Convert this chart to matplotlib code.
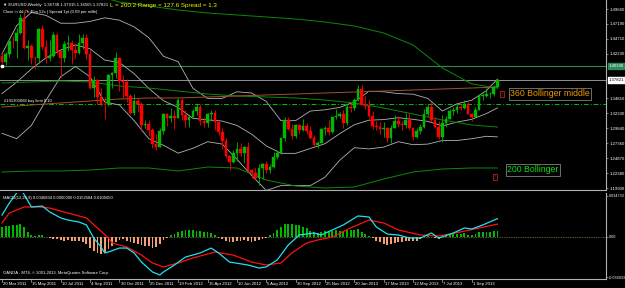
import matplotlib
matplotlib.use("Agg")
import matplotlib.pyplot as plt
from matplotlib.patches import Rectangle
from matplotlib.transforms import blended_transform_factory

plt.rcParams['font.family'] = ['Liberation Sans', 'DejaVu Sans']

# weekly EURUSD candles, week 0 = 20 Mar 2011
opens = [1.4180, 1.4090, 1.4225, 1.4435, 1.4430, 1.4570, 1.4810, 1.4315, 1.4355, 1.4155,
         1.4150, 1.4635, 1.4335, 1.4155, 1.4190, 1.4530, 1.4260, 1.4150, 1.4380, 1.4395,
         1.4285, 1.4240, 1.4395, 1.4490, 1.4210, 1.3650, 1.3790, 1.3500, 1.3390, 1.3380,
         1.3870, 1.3895, 1.4150, 1.3775, 1.3750, 1.3525, 1.3240, 1.3445, 1.3380, 1.3040,
         1.3055, 1.2960, 1.2720, 1.2680, 1.2935, 1.3215, 1.3150, 1.3195, 1.3160, 1.3450,
         1.3205, 1.3120, 1.3175, 1.3275, 1.3345, 1.3100, 1.3075, 1.3225, 1.3235, 1.3080,
         1.2915, 1.2780, 1.2515, 1.2415, 1.2570, 1.2640, 1.2570, 1.2665, 1.2290, 1.2245,
         1.2155, 1.2315, 1.2390, 1.2290, 1.2335, 1.2510, 1.2575, 1.2815, 1.3125, 1.2975,
         1.2860, 1.3040, 1.2950, 1.3025, 1.2940, 1.2815, 1.2710, 1.2745, 1.2975, 1.2985,
         1.2925, 1.3165, 1.3180, 1.3215, 1.3065, 1.3345, 1.3315, 1.3455, 1.3640, 1.3365,
         1.3360, 1.3190, 1.3020, 1.3005, 1.2965, 1.2985, 1.2815, 1.2995, 1.3110, 1.3050,
         1.3030, 1.3115, 1.2990, 1.2835, 1.2935, 1.3000, 1.3220, 1.3345, 1.3120, 1.3010,
         1.2830, 1.3065, 1.3140, 1.3275, 1.3280, 1.3340, 1.3325, 1.3380, 1.3220, 1.3175,
         1.3295, 1.3525, 1.3525, 1.3555, 1.3555, 1.36738]
highs = [1.4250, 1.4250, 1.4440, 1.4520, 1.4650, 1.4880, 1.4940, 1.4450, 1.4390, 1.4180,
         1.4650, 1.4700, 1.4450, 1.4450, 1.4580, 1.4560, 1.4280, 1.4440, 1.4530, 1.4450,
         1.4400, 1.4550, 1.4550, 1.4550, 1.4280, 1.3850, 1.3800, 1.3660, 1.3500, 1.3890,
         1.3915, 1.4245, 1.4170, 1.3870, 1.3800, 1.3550, 1.3550, 1.3490, 1.3420, 1.3120,
         1.3120, 1.2990, 1.2880, 1.2980, 1.3235, 1.3235, 1.3320, 1.3290, 1.3480, 1.3490,
         1.3290, 1.3200, 1.3300, 1.3385, 1.3385, 1.3170, 1.3240, 1.3285, 1.3280, 1.3090,
         1.2980, 1.2825, 1.2540, 1.2625, 1.2750, 1.2745, 1.2695, 1.2750, 1.2310, 1.2325,
         1.2390, 1.2405, 1.2440, 1.2385, 1.2585, 1.2625, 1.2815, 1.3170, 1.3170, 1.3060,
         1.3060, 1.3050, 1.3140, 1.3070, 1.3015, 1.2875, 1.2775, 1.2990, 1.3020, 1.3125,
         1.3170, 1.3310, 1.3260, 1.3295, 1.3405, 1.3405, 1.3480, 1.3700, 1.3711, 1.3520,
         1.3455, 1.3270, 1.3110, 1.3080, 1.3080, 1.3005, 1.3030, 1.3205, 1.3190, 1.3110,
         1.3245, 1.3240, 1.3010, 1.2980, 1.3060, 1.3305, 1.3390, 1.3415, 1.3175, 1.3105,
         1.3205, 1.3190, 1.3300, 1.3345, 1.3400, 1.3390, 1.3450, 1.3425, 1.3245, 1.3340,
         1.3545, 1.3570, 1.3645, 1.3590, 1.3705, 1.37915]
lows = [1.4060, 1.4030, 1.4160, 1.4320, 1.4150, 1.4550, 1.4300, 1.4120, 1.4050, 1.3968,
        1.4070, 1.4300, 1.4070, 1.4100, 1.4160, 1.4220, 1.3837, 1.4080, 1.4270, 1.4050,
        1.4150, 1.4225, 1.4300, 1.4140, 1.3640, 1.3495, 1.3385, 1.3360, 1.3145, 1.3350,
        1.3650, 1.3820, 1.3610, 1.3485, 1.3420, 1.3215, 1.3210, 1.3260, 1.2945, 1.2980,
        1.2860, 1.2660, 1.2624, 1.2670, 1.2880, 1.3025, 1.3080, 1.2975, 1.3150, 1.3120,
        1.3005, 1.3005, 1.3170, 1.3210, 1.3035, 1.3000, 1.3000, 1.3110, 1.2955, 1.2865,
        1.2640, 1.2495, 1.2285, 1.2400, 1.2445, 1.2520, 1.2405, 1.2255, 1.2160, 1.2140,
        1.2042, 1.2135, 1.2240, 1.2240, 1.2330, 1.2475, 1.2560, 1.2770, 1.2955, 1.2800,
        1.2820, 1.2885, 1.2930, 1.2880, 1.2800, 1.2690, 1.2660, 1.2740, 1.2875, 1.2875,
        1.2910, 1.3140, 1.3150, 1.2995, 1.3030, 1.3255, 1.3290, 1.3440, 1.3370, 1.3300,
        1.3150, 1.2965, 1.2955, 1.2880, 1.2845, 1.2750, 1.2745, 1.2985, 1.3000, 1.2955,
        1.2990, 1.2960, 1.2795, 1.2815, 1.2880, 1.2990, 1.3180, 1.3080, 1.2990, 1.2805,
        1.2755, 1.3010, 1.3130, 1.3205, 1.3230, 1.3290, 1.3300, 1.3215, 1.3105, 1.3165,
        1.3290, 1.3460, 1.3495, 1.3480, 1.3525, 1.36505]
closes = [1.4090, 1.4225, 1.4435, 1.4430, 1.4570, 1.4810, 1.4315, 1.4355, 1.4155, 1.4150,
          1.4635, 1.4335, 1.4155, 1.4190, 1.4530, 1.4260, 1.4150, 1.4380, 1.4395, 1.4285,
          1.4240, 1.4395, 1.4490, 1.4210, 1.3650, 1.3790, 1.3500, 1.3390, 1.3380, 1.3870,
          1.3895, 1.4150, 1.3775, 1.3750, 1.3525, 1.3240, 1.3445, 1.3380, 1.3040, 1.3055,
          1.2960, 1.2720, 1.2680, 1.2935, 1.3215, 1.3150, 1.3195, 1.3160, 1.3450, 1.3205,
          1.3120, 1.3175, 1.3275, 1.3345, 1.3100, 1.3075, 1.3225, 1.3235, 1.3080, 1.2915,
          1.2780, 1.2515, 1.2415, 1.2570, 1.2640, 1.2570, 1.2665, 1.2290, 1.2245, 1.2155,
          1.2315, 1.2390, 1.2290, 1.2335, 1.2510, 1.2575, 1.2815, 1.3125, 1.2975, 1.2860,
          1.3040, 1.2950, 1.3025, 1.2940, 1.2815, 1.2710, 1.2745, 1.2975, 1.2985, 1.2925,
          1.3165, 1.3180, 1.3215, 1.3065, 1.3345, 1.3315, 1.3455, 1.3640, 1.3365, 1.3360,
          1.3190, 1.3020, 1.3005, 1.2965, 1.2985, 1.2815, 1.2995, 1.3110, 1.3050, 1.3030,
          1.3115, 1.2990, 1.2835, 1.2935, 1.3000, 1.3220, 1.3345, 1.3120, 1.3010, 1.2830,
          1.3065, 1.3140, 1.3275, 1.3280, 1.3340, 1.3325, 1.3380, 1.3220, 1.3175, 1.3295,
          1.3525, 1.3525, 1.3555, 1.3555, 1.3674, 1.37821]

# 20-week bollinger (gray), read every 4 weeks
bb_weeks = [0, 4, 8, 12, 16, 20, 24, 28, 32, 36, 40, 44, 48, 52, 56, 60, 64, 68, 72, 76,
            80, 84, 88, 92, 96, 100, 104, 108, 112, 116, 120, 124, 128, 132, 135]
bb_mid = [1.356, 1.375, 1.397, 1.4155, 1.4285, 1.437, 1.4304, 1.4117, 1.4076, 1.3891,
          1.3647, 1.3441, 1.3329, 1.3149, 1.3123, 1.3103, 1.3031, 1.2886, 1.2691, 1.2567,
          1.2566, 1.2647, 1.2727, 1.2893, 1.3042, 1.3118, 1.3128, 1.3159, 1.3132, 1.3098,
          1.3024, 1.3086, 1.3132, 1.3228, 1.3322]
bb_up = [1.422, 1.469, 1.491, 1.486, 1.473, 1.473, 1.476, 1.482, 1.478, 1.467,
         1.449, 1.418, 1.409, 1.365, 1.348, 1.348, 1.359, 1.357, 1.343, 1.311,
         1.311, 1.327, 1.329, 1.333, 1.342, 1.360, 1.359, 1.356, 1.355, 1.348,
         1.327, 1.339, 1.345, 1.361, 1.380]
bb_lo = [1.290, 1.281, 1.303, 1.345, 1.384, 1.401, 1.384, 1.342, 1.337, 1.311,
         1.281, 1.270, 1.257, 1.265, 1.276, 1.272, 1.247, 1.220, 1.195, 1.203,
         1.203, 1.203, 1.217, 1.245, 1.266, 1.264, 1.267, 1.276, 1.271, 1.272,
         1.278, 1.278, 1.281, 1.285, 1.284]

# 200-week bollinger (green) and 360-week middle (brown), read every 8 weeks
lt_weeks = [0, 8, 16, 24, 32, 40, 48, 56, 64, 72, 80, 88, 96, 104, 112, 120, 128, 135]
bb200_up = [1.5216, 1.5233, 1.5266, 1.5216, 1.5083, 1.5017, 1.4950, 1.4900, 1.4867,
            1.4834, 1.4800, 1.4750, 1.4684, 1.4568, 1.4368, 1.3986, 1.3720, 1.3653]
bb200_mid = [1.3736, 1.3753, 1.3769, 1.3753, 1.3686, 1.3653, 1.3603, 1.3553, 1.3520,
             1.3503, 1.3487, 1.3453, 1.3404, 1.3320, 1.3221, 1.3121, 1.3038, 1.3004]
bb200_lo = [1.2256, 1.2273, 1.2273, 1.2289, 1.2323, 1.2323, 1.2273, 1.2339, 1.2323,
            1.2123, 1.2023, 1.1990, 1.2007, 1.2140, 1.2256, 1.2306, 1.2323, 1.2323]
sma360 = [1.3337, 1.3370, 1.3404, 1.3437, 1.3470, 1.3487, 1.3487, 1.3503, 1.3520,
          1.3537, 1.3553, 1.3570, 1.3586, 1.3603, 1.3620, 1.3636, 1.3653, 1.3670]

hline_green = 1.4019
bid = 1.37821
buy_limit = 1.3387
price_ticks = [1.1990, 1.2238, 1.2487, 1.2736, 1.2984, 1.3233, 1.3481,
               1.4223, 1.4471, 1.4719, 1.4966]

# MACD(12,26,9)
macd_weeks = [0, 2, 5, 8, 11, 13, 16, 18, 21, 23, 25, 27, 28, 29, 32, 34, 36, 38, 41, 43,
              44, 47, 50, 54, 57, 59, 62, 67, 70, 72, 75, 78, 81, 85, 87, 90, 93, 97, 100,
              102, 105, 108, 111, 114, 117, 119, 123, 126, 128, 131, 135]
macd_main = [0.0184, 0.0287, 0.0416, 0.0253, 0.0261, 0.0210, 0.0159, 0.0141, 0.0124,
             0.0099, -0.0013, -0.0090, -0.0141, -0.0133, -0.0099, -0.0099, -0.0141,
             -0.0219, -0.0304, -0.0330, -0.0304, -0.0244, -0.0176, -0.0141, -0.0099,
             -0.0141, -0.0219, -0.0244, -0.0270, -0.0261, -0.0201, -0.0073, 0.0013,
             0.0030, 0.0013, 0.0056, 0.0099, 0.0176, 0.0167, 0.0081, 0.0021, 0.0013,
             -0.0013, -0.0013, 0.0030, -0.0013, 0.0030, 0.0073, 0.0064, 0.0099, 0.0153]
sig_weeks = [0, 2, 6, 10, 13, 18, 23, 26, 29, 30, 34, 38, 41, 44, 48, 52, 58, 63, 68, 72,
             76, 79, 83, 86, 90, 95, 100, 104, 108, 114, 119, 125, 130, 135]
macd_signal = [0.0116, 0.0201, 0.0253, 0.0253, 0.0244, 0.0201, 0.0159, 0.0073, -0.0013,
               -0.0056, -0.0090, -0.0159, -0.0227, -0.0261, -0.0227, -0.0184, -0.0133,
               -0.0159, -0.0219, -0.0244, -0.0227, -0.0141, -0.0056, -0.0030, -0.0004,
               0.0073, 0.0141, 0.0116, 0.0056, 0.0013, 0.0004, 0.0039, 0.0073, 0.0106]
macd_hist = [0.0080, 0.0088, 0.0092, 0.0095, 0.0100, 0.0105, 0.0085, 0.0040, 0.0010, 0.0008,
             0.0012, 0.0010, -0.0005, -0.0015, -0.0020, -0.0025, -0.0030, -0.0035, -0.0030, -0.0035,
             -0.0040, -0.0035, -0.0045, -0.0060, -0.0100, -0.0125, -0.0140, -0.0150, -0.0145, -0.0110,
             -0.0080, -0.0050, -0.0030, -0.0025, -0.0035, -0.0050, -0.0055, -0.0060, -0.0070, -0.0080,
             -0.0085, -0.0095, -0.0090, -0.0060, -0.0030, -0.0010, 0.0010, 0.0025, 0.0040, 0.0045,
             0.0055, 0.0060, 0.0055, 0.0050, 0.0045, 0.0040, 0.0035, 0.0030, 0.0010, -0.0010,
             -0.0020, -0.0035, -0.0045, -0.0050, -0.0040, -0.0035, -0.0030, -0.0040, -0.0045, -0.0040,
             -0.0030, -0.0020, -0.0010, 0.0010, 0.0030, 0.0060, 0.0085, 0.0105, 0.0110, 0.0105,
             0.0100, 0.0095, 0.0085, 0.0070, 0.0050, 0.0040, 0.0030, 0.0040, 0.0045, 0.0040,
             0.0050, 0.0055, 0.0050, 0.0045, 0.0060, 0.0055, 0.0055, 0.0065, 0.0040, 0.0025,
             0.0005, -0.0015, -0.0035, -0.0050, -0.0060, -0.0070, -0.0065, -0.0055, -0.0050, -0.0045,
             -0.0040, -0.0035, -0.0040, -0.0035, -0.0020, 0.0005, 0.0010, -0.0005, -0.0010, -0.0020,
             -0.0005, 0.0005, 0.0015, 0.0020, 0.0025, 0.0020, 0.0030, 0.0015, 0.0010, 0.0020,
             0.0035, 0.0040, 0.0040, 0.0035, 0.0045, 0.0047]
macd_ticks = [0.034733, 0.0, -0.034933]
macd_tick_labels = ["0.034733", "0.00", "-0.034933"]

date_weeks = [0, 8, 16, 24, 32, 40, 48, 56, 64, 72, 80, 88, 96, 104, 112, 120, 128]
date_labels = ["20 Mar 2011", "15 May 2011", "10 Jul 2011", "4 Sep 2011", "30 Oct 2011",
               "25 Dec 2011", "19 Feb 2012", "15 Apr 2012", "10 Jun 2012", "5 Aug 2012",
               "30 Sep 2012", "25 Nov 2012", "20 Jan 2013", "17 Mar 2013", "12 May 2013",
               "7 Jul 2013", "1 Sep 2013"]

W, H = 625, 288
BULL = "#00b800"
BEAR = "#ff0000"
AXC = "#b0b0b0"
XLIM = (-0.545, 164.58)
FS = 3.1

fig = plt.figure(figsize=(W / 100, H / 100), dpi=100, facecolor="black")


def px_axes(x0, y0, x1, y1):
    return fig.add_axes([x0 / W, 1 - y1 / H, (x1 - x0) / W, (y1 - y0) / H])


def ftext(x, y, s, **kw):
    fig.text(x / W, 1 - y / H, s, **kw)


ax = px_axes(0, 0, 606, 190)
mx = px_axes(0, 193, 606, 279)
for a in (ax, mx):
    a.set_facecolor("black")
    a.set_xlim(*XLIM)
    for s in ("left", "top"):
        a.spines[s].set_visible(False)
    for s in ("right", "bottom"):
        a.spines[s].set_color(AXC)
        a.spines[s].set_linewidth(0.8)
    a.yaxis.tick_right()
    a.tick_params(axis="y", colors=AXC, labelcolor="white", length=1.5, width=0.5,
                  labelsize=FS, pad=0.8)
    a.set_xticks([])

ax.set_ylim(1.1957, 1.5116)
mx.set_ylim(-0.03642, 0.03728)
mx.tick_params(axis="y", labelsize=2.7, pad=0.6)

# candles
for i in range(len(closes)):
    o, h, l, c = opens[i], highs[i], lows[i], closes[i]
    col = BULL if c >= o else BEAR
    ax.vlines(i, l, h, color=col, lw=0.6, zorder=4)
    bot = min(o, c)
    hgt = max(abs(c - o), 0.0004)
    ax.add_patch(Rectangle((i - 0.36, bot), 0.72, hgt, facecolor=col, edgecolor=col,
                           lw=0.3, zorder=5))

# indicator lines
for band in (bb_up, bb_mid, bb_lo):
    ax.plot(bb_weeks, band, color="#b4b4b4", lw=0.6, zorder=3)
for band in (bb200_up, bb200_mid, bb200_lo):
    ax.plot(lt_weeks, band, color="#0a8a0a", lw=0.7, zorder=3)
ax.plot(lt_weeks, sma360, color="#a0522d", lw=0.7, zorder=3)

ax.axhline(hline_green, color="#2e8b57", lw=0.8, zorder=2)
ax.axhline(bid, color="#a8a8a8", lw=0.6, zorder=2)
ax.axhline(buy_limit, color="#00c000", lw=0.7, ls=(0, (5, 2, 1, 2)), zorder=2)
ax.plot([0], [hline_green], marker="s", ms=1.5, color="white", zorder=6)

ax.set_yticks(price_ticks)
ax.set_yticklabels(["%.5f" % p for p in price_ticks])

tr = blended_transform_factory(ax.transAxes, ax.transData)
ax.text(1.004, hline_green, "%.5f" % hline_green, transform=tr, fontsize=FS,
        color="white", va="center", ha="left",
        bbox=dict(boxstyle="square,pad=0.2", fc="#2e8b57", ec="#2e8b57"))
ax.text(1.004, bid, "%.5f" % bid, transform=tr, fontsize=FS, color="black",
        va="center", ha="left", bbox=dict(boxstyle="square,pad=0.2", fc="white", ec="white"))

# MACD panel
hcols = [BULL if v >= 0 else "#f4a070" for v in macd_hist]
mx.bar(range(len(macd_hist)), macd_hist, width=0.5, color=hcols, zorder=2)
mx.plot(macd_weeks, macd_main, color="#20e0f0", lw=0.9, zorder=4)
mx.plot(sig_weeks, macd_signal, color="#ff1010", lw=0.9, zorder=3)
mx.axhline(0, color="#b4b46a", lw=0.5, ls=(0, (1, 1.5)), zorder=1)
mx.set_yticks(macd_ticks)
mx.set_yticklabels(macd_tick_labels)

# date axis
trm = blended_transform_factory(mx.transData, mx.transAxes)
for wk, lab in zip(date_weeks, date_labels):
    mx.plot([wk, wk], [0, -0.035], transform=trm, color=AXC, lw=0.5, clip_on=False)
    mx.text(wk + 0.3, -0.04, lab, transform=trm, fontsize=FS, color="white",
            ha="left", va="top")

# header texts
ftext(3, 5, "\u25bc EURUSD,Weekly  1.36738 1.37915 1.36505 1.37821", fontsize=3.1,
      color="white", va="center")
ftext(110, 5, "L = 200.2 Range = 127.6 Spread = 1.3", fontsize=4.5, color="#f0f000",
      va="center")
ftext(3, 12, "Close in 4d 7h 45m 52s | Spread 1pt (0.09 per mille)", fontsize=3.0,
      color="white", va="center")
ftext(4, 101, "#191300068 buy limit 0.10", fontsize=3.0, color="white", va="center")

# annotation boxes
ftext(510, 94, "360 Bollinger middle", fontsize=6.3, color="#e89a00", va="center",
      bbox=dict(boxstyle="square,pad=0.15", fc="black", ec="#808080", lw=0.6))
ftext(507, 170, "200 Bollinger", fontsize=6.3, color="#10e010", va="center",
      bbox=dict(boxstyle="square,pad=0.15", fc="black", ec="#808080", lw=0.6))
ftext(502, 94, "\u2191", fontsize=4, color="#d02020", va="center", ha="center",
      bbox=dict(boxstyle="square,pad=0.15", fc="black", ec="#c02020", lw=0.6))
ftext(495, 177, "\u2191", fontsize=4, color="#d02020", va="center", ha="center",
      bbox=dict(boxstyle="square,pad=0.15", fc="black", ec="#c02020", lw=0.6))

ftext(3, 198, "MACD(12,26,9) 0.0046834 0.0000000 0.0152584 0.0105650", fontsize=3.0,
      color="white", va="center")
ftext(3, 273, "OANDA - MT4, \u00a9 2001-2013, MetaQuotes Software Corp.", fontsize=3.0,
      color="white", va="center")

fig.savefig("out.png", dpi=100, facecolor="black")
